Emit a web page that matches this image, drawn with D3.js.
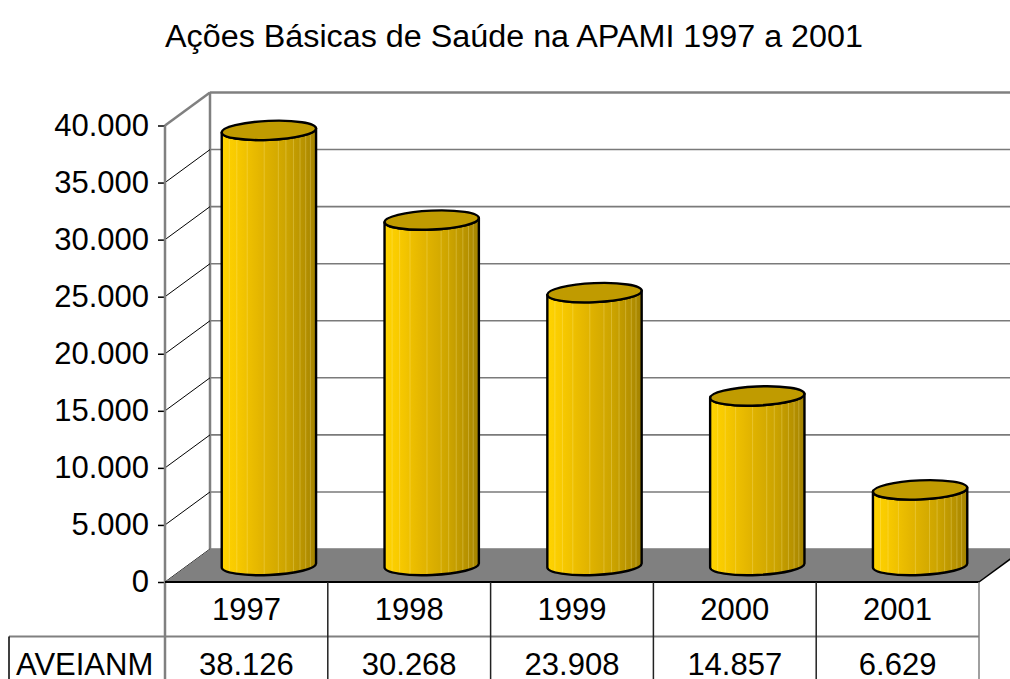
<!DOCTYPE html>
<html><head><meta charset="utf-8">
<script src="https://cdn.jsdelivr.net/npm/d3@7"></script>
<style>body{margin:0;background:#fff}svg{display:block}text{font-family:"Liberation Sans",Arial,sans-serif}</style>
</head><body><svg id="c" width="1010" height="679"></svg>
<script>
const title = "Ações Básicas de Saúde na APAMI 1997 a 2001";
const years = ["1997","1998","1999","2000","2001"];
const values = [38126, 30268, 23908, 14857, 6629];
const seriesName = "AVEIANM";
const yTicks = [0,5000,10000,15000,20000,25000,30000,35000,40000];

const svg = d3.select("#c");
const DX = 45, DY = -33;
const x = d3.scaleBand().domain(years).range([165, 979]);
const y = d3.scaleLinear().domain([0, 40000]).range([582, 125.5]);
const fmt = d => d3.format(",")(d).replace(/,/g, ".");

svg.append("text").attr("x", 514).attr("y", 47).attr("text-anchor","middle")
  .attr("font-size", 31).attr("textLength", 698).attr("lengthAdjust","spacingAndGlyphs").text(title);

const x0 = x.range()[0], x1 = x.range()[1];
const yTop = y(40000), yBase = y(0);
svg.append("g").selectAll("line").data(yTicks).join("line")
  .attr("x1", x0+DX).attr("x2", 1010).attr("y1", d=>y(d)+DY).attr("y2", d=>y(d)+DY)
  .attr("stroke", d => d===40000 ? "#808080" : "#7a7a7a").attr("stroke-width", d => d===40000 ? 2.5 : 1.6);
svg.append("line").attr("x1", x0+DX).attr("x2", x0+DX).attr("y1", yTop+DY).attr("y2", yBase+DY)
  .attr("stroke","#808080").attr("stroke-width",2.5);
svg.append("g").selectAll("line").data(yTicks.filter(d=>d!==40000)).join("line")
  .attr("x1", x0).attr("y1", d=>y(d)).attr("x2", x0+DX).attr("y2", d=>y(d)+DY)
  .attr("stroke","#000").attr("stroke-width",1);
svg.append("line").attr("x1", x0).attr("y1", yTop).attr("x2", x0+DX).attr("y2", yTop+DY)
  .attr("stroke","#808080").attr("stroke-width",2.5);
svg.append("path").attr("d", `M${x0},${yBase}L${x1},${yBase}L${x1+DX},${yBase+DY}L${x0+DX},${yBase+DY}Z`)
  .attr("fill","#808080");

const defs = svg.append("defs");
const g = defs.append("linearGradient").attr("id","cyl").attr("x1","0").attr("x2","1").attr("y1","0").attr("y2","0");
[[0,"#ffd400"],[0.15,"#f8ca00"],[0.4,"#e4b600"],[0.7,"#cba300"],[0.88,"#b69100"],[1,"#a28200"]]
  .forEach(([o,c]) => g.append("stop").attr("offset", o).attr("stop-color", c));

const bw = x.bandwidth();
const rx = bw*0.29, ry = 9.5, tilt = -2.5;
const tr = tilt*Math.PI/180;
const stripes = [0.08,0.16,0.27,0.45,0.6,0.68,0.76,0.83,0.89,0.94];
const cyl = svg.append("g").selectAll("g").data(values).join("g");
cyl.each(function(v, i){
  const gg = d3.select(this);
  const cx = x(years[i]) + bw/2 + DX/2;
  const cb = yBase + DY/2, ct = y(v) + DY/2;
  const ex = rx*Math.cos(tr), ey = rx*Math.sin(tr);
  const L = [cx-ex, -ey], R = [cx+ex, ey];
  const body = `M${L[0]},${ct+L[1]}L${L[0]},${cb+L[1]}A${rx},${ry} ${tilt} 0 0 ${R[0]},${cb+R[1]}L${R[0]},${ct+R[1]}A${rx},${ry} ${tilt} 0 1 ${L[0]},${ct+L[1]}Z`;
  gg.append("path").attr("d", body).attr("fill","url(#cyl)");
  const clipId = "cl"+i;
  defs.append("clipPath").attr("id", clipId).append("path").attr("d", body);
  gg.append("g").attr("clip-path", `url(#${clipId})`).selectAll("line").data(stripes).join("line")
    .attr("x1", f => L[0] + f*(R[0]-L[0])).attr("x2", f => L[0] + f*(R[0]-L[0]))
    .attr("y1", ct-20).attr("y2", cb+ry+4)
    .attr("stroke","#fff2a0").attr("stroke-opacity",0.28).attr("stroke-width",1);
  gg.append("path").attr("d", body).attr("fill","none").attr("stroke","#000").attr("stroke-width",2.4).attr("stroke-linejoin","round");
  gg.append("ellipse").attr("cx",cx).attr("cy",ct).attr("rx",rx).attr("ry",ry)
    .attr("transform",`rotate(${tilt},${cx},${ct})`)
    .attr("fill","#c09b00").attr("stroke","#000").attr("stroke-width",2.4);
});

const ax = svg.append("g").attr("transform",`translate(${x0},0)`)
  .call(d3.axisLeft(y).tickValues(yTicks).tickFormat(fmt).tickSize(7).tickSizeOuter(0));
ax.select(".domain").remove();
ax.selectAll(".tick line").attr("stroke","#000").attr("stroke-width",1.5);
ax.selectAll(".tick text").attr("font-size",31).attr("fill","#000").attr("x",-16)
  .attr("font-family",'"Liberation Sans",Arial,sans-serif');
svg.append("line").attr("x1",x0).attr("x2",x0).attr("y1",yTop).attr("y2",679)
  .attr("stroke","#808080").attr("stroke-width",2.5);

const rowH = 54.5, r1 = yBase, r2 = yBase + rowH;
svg.append("line").attr("x1",x0).attr("x2",x1).attr("y1",r1).attr("y2",r1).attr("stroke","#000").attr("stroke-width",2);
svg.append("line").attr("x1",9).attr("x2",x1).attr("y1",r2).attr("y2",r2).attr("stroke","#808080").attr("stroke-width",2);
svg.append("line").attr("x1",9).attr("x2",9).attr("y1",r2).attr("y2",679).attr("stroke","#000").attr("stroke-width",1.5);
svg.append("g").selectAll("line").data(years).join("line")
  .attr("x1", d=>x(d)+bw).attr("x2", d=>x(d)+bw).attr("y1", r1).attr("y2", 679)
  .attr("stroke", (d,i)=> i===years.length-1 ? "#808080" : "#222").attr("stroke-width",1.5);
svg.append("line").attr("x1",x1).attr("y1",r1).attr("x2",x1+DX).attr("y2",r1+DY).attr("stroke","#000").attr("stroke-width",1.5);
svg.append("g").selectAll("text").data(years).join("text")
  .attr("x", d=>x(d)+bw/2).attr("y", r1+38).attr("text-anchor","middle").attr("font-size",31).text(d=>d);
svg.append("g").selectAll("text").data(values).join("text")
  .attr("x", (d,i)=>x(years[i])+bw/2).attr("y", r2+38).attr("text-anchor","middle").attr("font-size",31).text(fmt);
svg.append("text").attr("x",16).attr("y",r2+38).attr("font-size",31).text(seriesName);
</script></body></html>
